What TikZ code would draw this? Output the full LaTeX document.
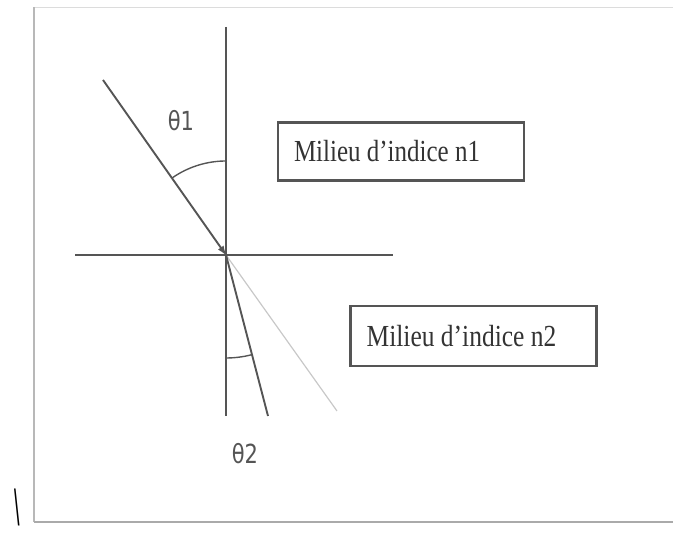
\documentclass[tikz,border=0pt]{standalone}
\usepackage{fontspec}
\setmainfont{Liberation Serif}
\newfontfamily\lblfont{DejaVu Sans}
\newfontfamily\slashfont{Liberation Sans}
\usetikzlibrary{arrows.meta}
\definecolor{linegray}{HTML}{555555}
\definecolor{framegray}{HTML}{B8B8B8}
\definecolor{faintgray}{HTML}{C8C8C8}
\tikzset{
  ray/.style={draw=linegray, line width=1.9pt},
  faint/.style={draw=faintgray, line width=1.2pt},
  anglearc/.style={draw=linegray, line width=1.4pt},
  mediumbox/.style={draw=linegray, line width=2.4pt, minimum width=246pt, minimum height=58pt,
    inner sep=0pt, font=\fontsize{25.5}{25.5}\selectfont, text=black!80},
  thetalabel/.style={font=\lblfont\fontsize{21}{21}\selectfont, text=linegray, inner sep=0pt}
}
\begin{document}
\begin{tikzpicture}[x=1pt,y=1pt]
  \useasboundingbox (0,0) rectangle (673,537);
  % frame
  \coordinate (ftl) at (34,530);
  \coordinate (fbl) at (34,15);
  \coordinate (fbr) at (673,15);
  \coordinate (ftr) at (673,530);
  \draw[framegray!50, line width=0.8pt] (ftl) -- (ftr);
  \draw[framegray, line width=1.5pt] (ftl) -- (fbl);
  \draw[framegray!120, line width=2.5pt] (fbl) -- (fbr);
  % geometry
  \coordinate (O) at (226,282);
  \coordinate (ntop) at (226,510);
  \coordinate (nbot) at (226,121);
  \coordinate (ileft) at (75,282);
  \coordinate (iright) at (393,282);
  \coordinate (src) at (103,457);
  \coordinate (refr) at (268,121);
  \coordinate (cont) at (337,126);
  \draw[faint] (O) -- (cont);
  \draw[ray] (ntop) -- (nbot);
  \draw[ray] (ileft) -- (iright);
  \draw[ray] (O) -- (refr);
  \draw[ray, -{Latex[length=10pt,width=7pt]}, shorten >=-1pt] (src) -- (O);
  % angle arcs
  \draw[anglearc] ([shift={(90:94)}]O) arc[start angle=90, end angle=125.1, radius=94];
  \draw[anglearc] ([shift={(270:103)}]O) arc[start angle=270, end angle=284.6, radius=103];
  % labels
  \node[thetalabel] (t1) at (181,416) {\scalebox{1}[1.25]{θ1}};
  \node[thetalabel] (t2) at (245,83) {\scalebox{1}[1.25]{θ2}};
  % boxes
  \node[mediumbox] (m1) at (401,385.5) {\hspace*{-28pt}\scalebox{0.98}[1.2]{Milieu d’indice n1}};
  \node[mediumbox, minimum height=60pt] (m2) at (473.5,201) {\hspace*{-24pt}\scalebox{1}[1.2]{Milieu d’indice n2}};
  % stray backslash
  \node[inner sep=0pt, font=\slashfont\fontsize{36}{36}\selectfont] (bs) at (17,30) {\scalebox{0.55}[1.4]{\textbackslash}};
\end{tikzpicture}
\end{document}
